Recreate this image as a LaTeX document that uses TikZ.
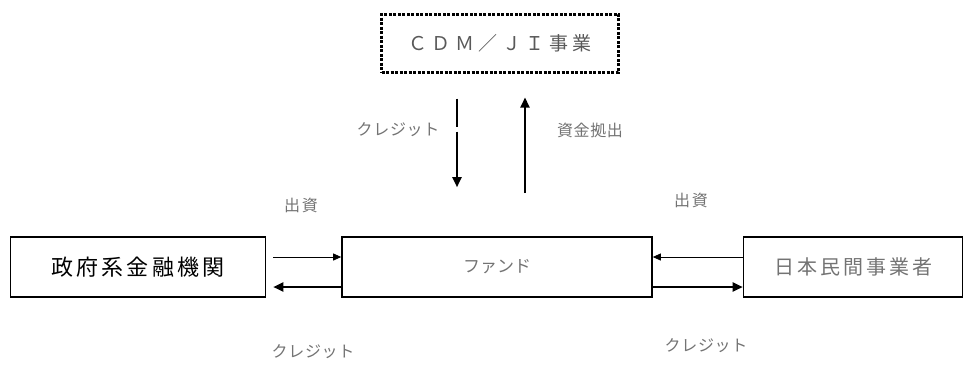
\documentclass[tikz,border=0pt]{standalone}
\usepackage{fontspec}
\setmainfont{Noto Sans CJK JP}
\usetikzlibrary{arrows.meta}

\begin{document}
\begin{tikzpicture}[x=1pt,y=-1pt,
    box/.style={draw, line width=1.6pt, inner sep=0pt},
    lbl/.style={text=black!55, font=\fontsize{16}{18}\selectfont\addfontfeature{LetterSpace=4}},
    thin arrow/.style={line width=0.8pt, -{Triangle[length=8pt,width=7pt]}},
    bold arrow/.style={line width=2pt, -{Triangle[length=10pt,width=9pt]}}]
    \useasboundingbox (0,0) rectangle (973,376);

    \node[box, line width=3pt, dash pattern=on 3pt off 1.5pt,
          minimum width=237, minimum height=58, text=black!65,
          font=\fontsize{19}{21}\selectfont\addfontfeature{LetterSpace=24}] (cdm) at (500,43) {ＣＤＭ／ＪＩ事業};

    \node[box, minimum width=255, minimum height=60,
          font=\fontsize{22}{24}\selectfont\addfontfeature{LetterSpace=14}]
      (gov) at (138,267) {政府系金融機関};
    \node[box, minimum width=310, minimum height=60, text=black!55,
          font=\fontsize{17}{20}\selectfont] (fund) at (497,267) {ファンド};
    \node[box, minimum width=219, minimum height=60, text=black!55,
          font=\fontsize{20}{22}\selectfont\addfontfeature{LetterSpace=15}] (jp) at (853,267) {日本民間事業者};

      % vertical arrows
      \coordinate (c1) at ([xshift=-43pt,yshift=-25pt]cdm.south);
      \coordinate (c2) at ([xshift=-40pt,yshift=49pt]fund.north);
      \coordinate (c3) at ([xshift=28pt,yshift=43pt]fund.north);
      \coordinate (c4) at ([xshift=25pt,yshift=-24pt]cdm.south);
      \draw[bold arrow, dash pattern=on 28pt off 5pt on 80pt] (c1) -- (c2 -| c1);
      \draw[bold arrow] (c3 -| c4) -- (c4);

      % left pair
      \draw[thin arrow, shorten <=7pt] ([yshift=10pt]gov.east) -- ([yshift=10pt]fund.west);
      \draw[bold arrow, shorten >=7pt] ([yshift=-20pt]fund.west) -- ([yshift=-20pt]gov.east);

      % right pair
      \draw[thin arrow] ([yshift=10pt]jp.west) -- ([yshift=10pt]fund.east);
      \draw[bold arrow] ([yshift=-20pt]fund.east) -- ([yshift=-20pt]jp.west);

    \node[lbl] (l1) at (398,130) {クレジット};
    \node[lbl] (l2) at (590,130) {資金拠出};
    \node[lbl, font=\fontsize{16}{18}\selectfont\addfontfeature{LetterSpace=12}] (l3) at (301,205) {出資};
    \node[lbl, font=\fontsize{16}{18}\selectfont\addfontfeature{LetterSpace=12}] (l4) at (691,200) {出資};
    \node[lbl] (l5) at (313,352) {クレジット};
    \node[lbl] (l6) at (706,346) {クレジット};
\end{tikzpicture}
\end{document}
